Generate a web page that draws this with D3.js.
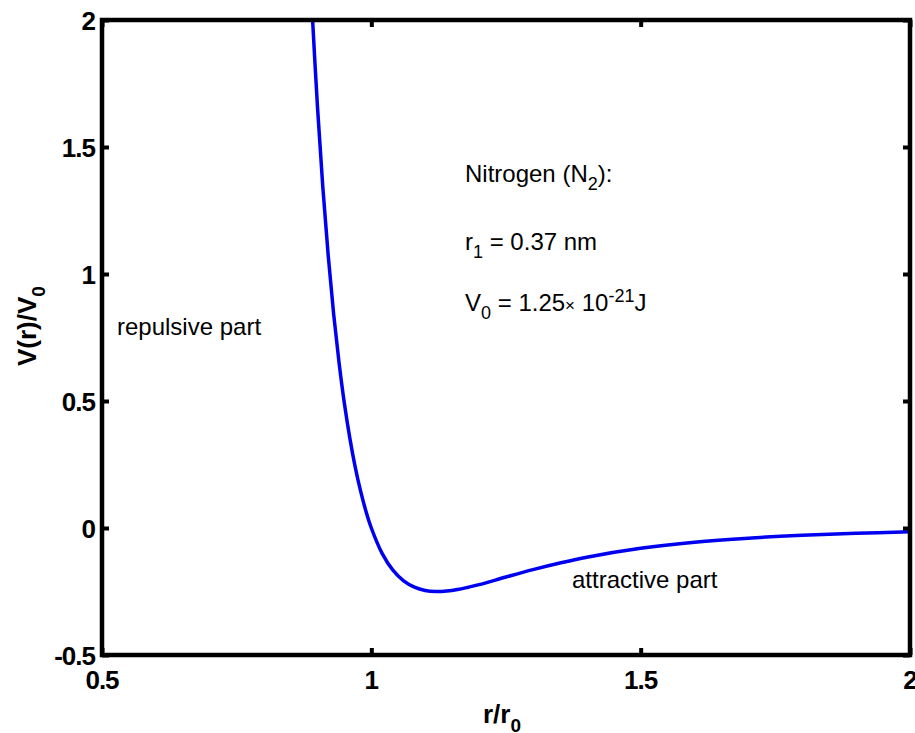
<!DOCTYPE html>
<html>
<head>
<meta charset="utf-8">
<script src="https://cdn.jsdelivr.net/npm/d3@7"></script>
<style>
  html, body { margin: 0; padding: 0; background: #fff; }
  svg { display: block; font-family: "Liberation Sans", Arial, Helvetica, sans-serif; }
</style>
</head>
<body>
<svg id="chart" width="915" height="733"></svg>
<script>
// Reduced distance r/r0 and the potential V(r)/V0 along the curve
const rValues = [0.89, 0.90, 0.91, 0.92, 0.93, 0.94, 0.95, 0.96, 0.97, 0.98, 0.99, 1.00,
                 1.02, 1.04, 1.06, 1.08, 1.10, 1.12, 1.14, 1.16, 1.18, 1.20, 1.25, 1.30,
                 1.35, 1.40, 1.50, 1.60, 1.70, 1.80, 1.90, 2.00];
const vValues = [2.037, 1.659, 1.340, 1.071, 0.843, 0.652, 0.490, 0.355, 0.241, 0.146, 0.066, 0.000,
                 -0.100, -0.166, -0.208, -0.233, -0.246, -0.250, -0.248, -0.242, -0.233, -0.223, -0.193, -0.164,
                 -0.138, -0.115, -0.080, -0.056, -0.040, -0.029, -0.021, -0.015];

const xTicks = [0.5, 1, 1.5, 2];
const yTicks = [-0.5, 0, 0.5, 1, 1.5, 2];
const xTickLabels = ["0.5", "1", "1.5", "2"];
const yTickLabels = ["-0.5", "0", "0.5", "1", "1.5", "2"];

const svg = d3.select("#chart");
const plotL = 102, plotR = 910, plotT = 20, plotB = 655;

const x = d3.scaleLinear().domain([0.5, 2]).range([plotL, plotR]);
const y = d3.scaleLinear().domain([-0.5, 2]).range([plotB, plotT]);

svg.append("defs").append("clipPath").attr("id", "plot-clip")
  .append("rect").attr("x", plotL).attr("y", plotT)
  .attr("width", plotR - plotL).attr("height", plotB - plotT);

// Potential curve
const points = rValues.map((r, i) => [r, vValues[i]]);
svg.append("path")
  .datum(points)
  .attr("clip-path", "url(#plot-clip)")
  .attr("fill", "none")
  .attr("stroke", "#0000f0")
  .attr("stroke-width", 3.5)
  .attr("stroke-linejoin", "round")
  .attr("d", d3.line().x(d => x(d[0])).y(d => y(d[1])).curve(d3.curveCatmullRom.alpha(0.5)));

// Boxed axes with inward ticks on all four sides
const tickLen = 7;
const axisStyle = g => {
  g.select(".domain").remove();
  g.selectAll(".tick line").attr("stroke", "#000").attr("stroke-width", 4);
  g.selectAll(".tick text").remove();
};
svg.append("g").attr("transform", `translate(0,${plotB})`)
  .call(d3.axisTop(x).tickValues(xTicks).tickSize(tickLen)).call(axisStyle);
svg.append("g").attr("transform", `translate(0,${plotT})`)
  .call(d3.axisBottom(x).tickValues(xTicks).tickSize(tickLen)).call(axisStyle);
svg.append("g").attr("transform", `translate(${plotL},0)`)
  .call(d3.axisRight(y).tickValues(yTicks).tickSize(tickLen)).call(axisStyle);
svg.append("g").attr("transform", `translate(${plotR},0)`)
  .call(d3.axisLeft(y).tickValues(yTicks).tickSize(tickLen)).call(axisStyle);

svg.append("rect")
  .attr("x", plotL).attr("y", plotT)
  .attr("width", plotR - plotL).attr("height", plotB - plotT)
  .attr("fill", "none").attr("stroke", "#000").attr("stroke-width", 4.5);

// Tick labels
svg.append("g").selectAll("text").data(xTicks).join("text")
  .attr("x", d => x(d)).attr("y", 689)
  .attr("text-anchor", "middle")
  .attr("font-size", 26).attr("font-weight", "bold").attr("letter-spacing", -1)
  .text((d, i) => xTickLabels[i]);
svg.append("g").selectAll("text").data(yTicks).join("text")
  .attr("x", 95).attr("y", d => y(d) + 10)
  .attr("text-anchor", "end")
  .attr("font-size", 26).attr("font-weight", "bold").attr("letter-spacing", -1)
  .text((d, i) => yTickLabels[i]);

// Axis titles
const xt = svg.append("text").attr("x", 483).attr("y", 723)
  .attr("font-size", 26).attr("font-weight", "bold");
xt.append("tspan").text("r/r");
xt.append("tspan").attr("dy", 9).attr("font-size", 19).text("0");

const yt = svg.append("text")
  .attr("transform", "translate(36,366) rotate(-90)")
  .attr("font-size", 26).attr("font-weight", "bold");
yt.append("tspan").text("V(r)/V");
yt.append("tspan").attr("dy", 9).attr("font-size", 19).text("0");

// Annotations
const ann = svg.append("g").attr("font-size", 24).attr("fill", "#000");
const t1 = ann.append("text").attr("x", 465).attr("y", 182);
t1.append("tspan").text("Nitrogen (N");
t1.append("tspan").attr("dy", 8).attr("font-size", 18).text("2");
t1.append("tspan").attr("dy", -8).text("):");

const t2 = ann.append("text").attr("x", 465).attr("y", 250);
t2.append("tspan").text("r");
t2.append("tspan").attr("dy", 8).attr("font-size", 18).text("1");
t2.append("tspan").attr("dy", -8).text(" = 0.37 nm");

const t3 = ann.append("text").attr("x", 465).attr("y", 311);
t3.append("tspan").text("V");
t3.append("tspan").attr("dy", 8).attr("font-size", 18).text("0");
t3.append("tspan").attr("dy", -8).text(" = 1.25");
t3.append("tspan").attr("font-size", 17).text("\u00d7");
t3.append("tspan").text(" 10");
t3.append("tspan").attr("dy", -9).attr("font-size", 18).text("-21");
t3.append("tspan").attr("dy", 9).text("J");

ann.append("text").attr("x", 117).attr("y", 335).text("repulsive part");
ann.append("text").attr("x", 572).attr("y", 588).text("attractive part");
</script>
</body>
</html>
